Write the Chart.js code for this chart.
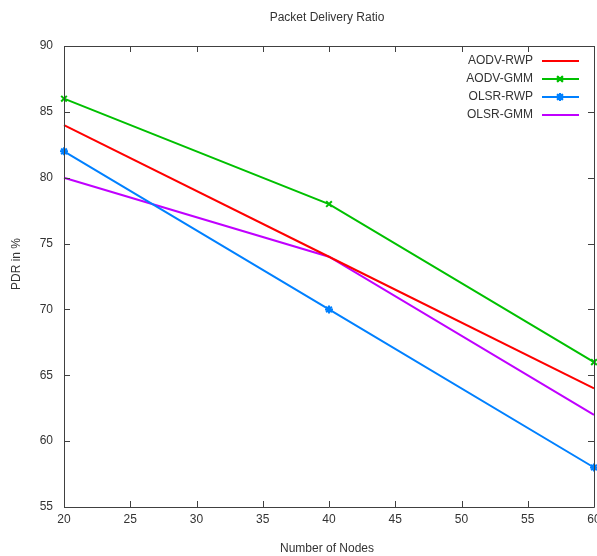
<!DOCTYPE html>
<html><head><meta charset="utf-8">
<script src="https://cdn.jsdelivr.net/npm/chart.js@4"></script>
<style>html,body{margin:0;padding:0;background:#fff;overflow:hidden}#wrap{width:597px;height:556px;overflow:hidden}</style>
</head><body><div id="wrap"><canvas id="c" width="600" height="556"></canvas></div>
<script>
const nodes = [20, 40, 60];
const aodvRwp = [84, 74, 64];
const aodvGmm = [86, 78, 66];
const olsrRwp = [82, 70, 58];
const olsrGmm = [80, 74, 62];
const seriesNames = ['AODV-RWP', 'AODV-GMM', 'OLSR-RWP', 'OLSR-GMM'];
const titleText = 'Packet Delivery Ratio';
const xTitle = 'Number of Nodes';
const yTitle = 'PDR in %';

const FONT = '"Liberation Sans", Arial, sans-serif';
const TXT = '#333333';
const colors = ['#ff0000', '#00c000', '#0080ff', '#c000ff'];
const pstyles = [false, 'crossRot', 'star', false];
const all = [aodvRwp, aodvGmm, olsrRwp, olsrGmm];

const datasets = all.map((vals, i) => ({
  label: seriesNames[i],
  data: nodes.map((x, j) => ({x: x, y: vals[j]})),
  borderColor: colors[i],
  backgroundColor: colors[i],
  borderWidth: 2,
  pointStyle: pstyles[i],
  pointRadius: pstyles[i] ? 4 : 0,
  pointBorderWidth: 2,
  tension: 0,
  fill: false,
  clip: false
}));

const decor = {
  id: 'decor',
  afterDraw(chart) {
    const ctx = chart.ctx, a = chart.chartArea;
    const xs = chart.scales.x, ys = chart.scales.y;
    ctx.save();
    ctx.strokeStyle = '#404040';
    ctx.lineWidth = 1;
    ctx.beginPath();
    ctx.rect(Math.round(a.left) + 0.5, Math.round(a.top) + 0.5, Math.round(a.right - a.left), Math.round(a.bottom - a.top));
    ctx.stroke();
    ctx.beginPath();
    xs.ticks.forEach(t => {
      const px = Math.round(xs.getPixelForValue(t.value)) + 0.5;
      ctx.moveTo(px, a.bottom); ctx.lineTo(px, a.bottom - 6);
      ctx.moveTo(px, a.top); ctx.lineTo(px, a.top + 6);
    });
    ys.ticks.forEach(t => {
      const py = Math.round(ys.getPixelForValue(t.value)) + 0.5;
      ctx.moveTo(a.left, py); ctx.lineTo(a.left + 6, py);
      ctx.moveTo(a.right, py); ctx.lineTo(a.right - 6, py);
    });
    ctx.stroke();

    // titles
    ctx.fillStyle = TXT;
    ctx.font = '12px ' + FONT;
    ctx.textAlign = 'center';
    ctx.textBaseline = 'middle';
    ctx.fillText(titleText, 327, 18);
    ctx.fillText(xTitle, 327, 549);
    ctx.save();
    ctx.translate(17, 264);
    ctx.rotate(-Math.PI / 2);
    ctx.fillText(yTitle, 0, 0);
    ctx.restore();

    // legend
    chart.data.datasets.forEach((ds, i) => {
      const y = 61 + i * 18;
      ctx.fillStyle = TXT;
      ctx.textAlign = 'right';
      ctx.fillText(ds.label, 533, y);
      ctx.strokeStyle = ds.borderColor;
      ctx.lineWidth = 2;
      ctx.beginPath();
      ctx.moveTo(542, y); ctx.lineTo(579, y);
      ctx.stroke();
      if (ds.pointStyle) {
        Chart.helpers.drawPoint(ctx, {pointStyle: ds.pointStyle, radius: 4, rotation: 0, borderWidth: 2}, 560, y);
        ctx.stroke();
      }
    });
    ctx.restore();
  }
};

new Chart(document.getElementById('c'), {
  type: 'line',
  data: {datasets},
  options: {
    responsive: false,
    animation: false,
    devicePixelRatio: 1,
    layout: {padding: {top: 46, right: 0, left: 0, bottom: 0}},
    plugins: {legend: {display: false}, title: {display: false}, tooltip: {enabled: false}},
    scales: {
      x: {
        type: 'linear', min: 20, max: 60,
        grid: {display: false, drawTicks: false},
        border: {display: false},
        ticks: {stepSize: 5, color: TXT, font: {family: FONT, size: 12}, padding: 5, maxRotation: 0},
        afterFit(s) { s.height = 49; s.paddingLeft = 0; s.paddingRight = 0; }
      },
      y: {
        min: 55, max: 90,
        grid: {display: false, drawTicks: false},
        border: {display: false},
        ticks: {stepSize: 5, color: TXT, font: {family: FONT, size: 12}, padding: 11},
        afterFit(s) { s.width = 64; s.paddingTop = 0; s.paddingBottom = 0; }
      }
    }
  },
  plugins: [decor]
});
</script></body></html>
